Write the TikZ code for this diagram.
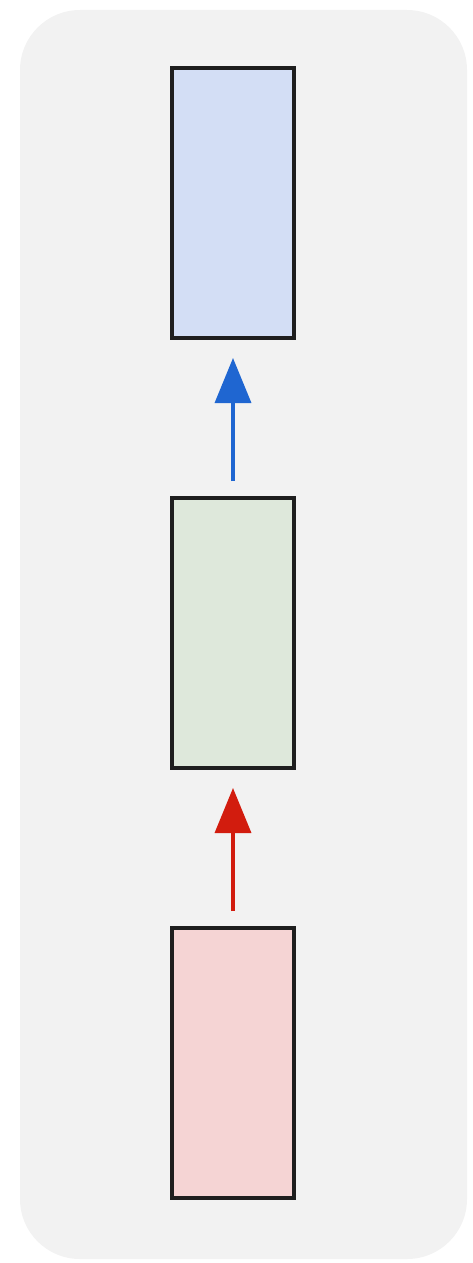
\documentclass[tikz,border=0pt]{standalone}
\usetikzlibrary{arrows.meta}
\definecolor{panelbg}{HTML}{F2F2F2}
\definecolor{boxblue}{HTML}{D3DEF5}
\definecolor{boxgreen}{HTML}{DEE8DB}
\definecolor{boxred}{HTML}{F5D4D4}
\definecolor{arrblue}{HTML}{1F66D1}
\definecolor{arrred}{HTML}{D21C0E}
\definecolor{edge}{HTML}{1E1E1E}
\begin{document}
\begin{tikzpicture}[x=1pt,y=-1pt,
  layer/.style={draw=edge,line width=3.5pt,minimum width=122pt,minimum height=270pt,inner sep=0pt,outer sep=0pt},
  flow/.style={line width=3.5pt,-{Triangle[length=45pt,width=36pt]},shorten >=20pt,shorten <=17pt}]
  \useasboundingbox (0,0) rectangle (473,1263);
  \fill[panelbg,rounded corners=60pt] (20,10) rectangle (467,1259);
  \node[layer,fill=boxblue] (top) at (233,203) {};
  \node[layer,fill=boxgreen] (mid) at (233,633) {};
  \node[layer,fill=boxred] (bot) at (233,1063) {};
  \draw[flow,arrblue] (mid.north) -- (top.south);
  \draw[flow,arrred] (bot.north) -- (mid.south);
\end{tikzpicture}
\end{document}
